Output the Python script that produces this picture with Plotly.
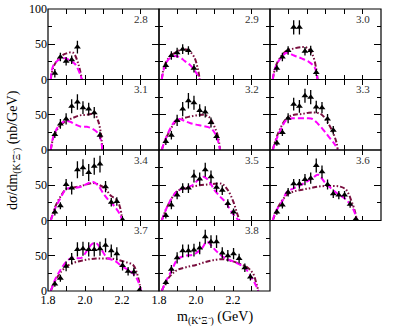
import plotly.graph_objects as go
from plotly.subplots import make_subplots

# Photon energies (panel labels)
energies = ["2.8", "2.9", "3.0", "3.1", "3.2", "3.3", "3.4", "3.5", "3.6", "3.7", "3.8"]

# Common mass grid for data points (GeV)
m_grid = [1.837, 1.867, 1.898, 1.928, 1.959, 1.989, 2.020, 2.050, 2.081, 2.111,
          2.142, 2.172, 2.203, 2.233, 2.264, 2.294]

# Data values (nb/GeV) and errors per panel
y_28 = [9, 32, 26, 28, 46]
e_28 = [6, 6, 6, 6, 9]
y_29 = [20, 34, 38, 43, 41, 16]
e_29 = [5, 6, 7, 7, 6, 6]
y_30 = [16, 32, 41, 74, 74, 40, 41, 10]
e_30 = [5, 6, 6, 10, 10, 6, 7, 5]
y_31 = [22, 37, 44, 62, 68, 60, 58, 53, 21]
e_31 = [5, 7, 8, 10, 11, 9, 9, 8, 5]
y_32 = [12, 21, 42, 58, 70, 67, 56, 54, 39, 19]
e_32 = [5, 6, 8, 10, 11, 10, 9, 8, 7, 5]
y_33 = [10, 25, 45, 65, 62, 77, 75, 61, 60, 44, 28]
e_33 = [4, 5, 7, 9, 9, 10, 10, 9, 8, 7, 6]
y_34 = [12, 21, 51, 46, 72, 75, 68, 77, 80, 48, 26, 27, 1]
e_34 = [5, 5, 8, 9, 12, 12, 12, 12, 12, 8, 6, 6, 2]
y_35 = [7, 22, 36, 46, 46, 63, 59, 72, 62, 47, 43, 24, 12]
e_35 = [4, 6, 6, 7, 7, 9, 9, 10, 9, 7, 7, 6, 5]
y_36 = [12, 22, 40, 52, 52, 58, 60, 78, 69, 51, 38, 36, 36, 23, 2]
e_36 = [4, 5, 6, 7, 7, 8, 8, 10, 9, 7, 6, 6, 6, 5, 2]
y_37 = [10, 18, 35, 46, 59, 60, 59, 59, 60, 65, 57, 53, 36, 28, 27, 1]
e_37 = [4, 5, 7, 8, 10, 10, 10, 10, 10, 10, 9, 9, 7, 6, 6, 2]
y_38 = [12, 31, 47, 57, 57, 58, 61, 77, 70, 70, 54, 50, 53, 46, 33, 20]
e_38 = [4, 6, 8, 9, 9, 9, 9, 10, 9, 9, 8, 8, 8, 7, 6, 5]

# Model curve A (dash-dot-dot, maroon)
ax_28 = [1.815, 1.83, 1.865, 1.90, 1.935, 1.964, 1.983]
ay_28 = [0, 18, 32, 37, 38, 22, 0]
ax_29 = [1.815, 1.83, 1.86, 1.90, 1.93, 1.96, 1.99, 2.01, 2.02]
ay_29 = [0, 20, 33, 40, 43, 41, 32, 15, 0]
ax_30 = [1.815, 1.83, 1.86, 1.89, 1.93, 1.97, 2.00, 2.03, 2.05, 2.057]
ay_30 = [0, 18, 33, 41, 44, 46, 45, 35, 15, 0]
ax_31 = [1.815, 1.83, 1.86, 1.89, 1.93, 1.97, 2.01, 2.05, 2.07, 2.085, 2.094]
ay_31 = [0, 18, 33, 40, 45, 49, 50, 51, 42, 25, 0]
ax_32 = [1.815, 1.83, 1.86, 1.89, 1.92, 1.96, 2.00, 2.04, 2.07, 2.10, 2.12, 2.13]
ay_32 = [0, 12, 28, 40, 44, 47, 49, 50, 47, 33, 18, 0]
ax_33 = [1.815, 1.83, 1.86, 1.89, 1.93, 1.97, 2.01, 2.05, 2.08, 2.11, 2.14, 2.16, 2.166]
ay_33 = [0, 14, 33, 45, 50, 51, 53, 53, 50, 40, 25, 10, 0]
ax_34 = [1.815, 1.84, 1.87, 1.90, 1.94, 1.98, 2.02, 2.05, 2.08, 2.11, 2.14, 2.17, 2.19, 2.201]
ay_34 = [0, 20, 35, 45, 47, 49, 52, 53, 50, 45, 35, 30, 18, 0]
ax_35 = [1.815, 1.84, 1.87, 1.90, 1.94, 1.98, 2.02, 2.06, 2.10, 2.14, 2.17, 2.20, 2.22, 2.235]
ay_35 = [0, 17, 32, 42, 45, 48, 50, 51, 52, 52, 44, 28, 12, 0]
ax_36 = [1.815, 1.84, 1.87, 1.90, 1.94, 1.98, 2.02, 2.06, 2.10, 2.14, 2.18, 2.21, 2.24, 2.26, 2.27]
ay_36 = [0, 17, 30, 38, 42, 44, 46, 48, 49, 49, 48, 44, 28, 12, 0]
ax_37 = [1.815, 1.84, 1.87, 1.90, 1.94, 1.98, 2.02, 2.06, 2.10, 2.14, 2.18, 2.22, 2.26, 2.28, 2.295, 2.303]
ay_37 = [0, 15, 27, 35, 40, 43, 45, 46, 46, 46, 44, 41, 37, 26, 10, 0]
ax_38 = [1.815, 1.84, 1.87, 1.90, 1.95, 2.00, 2.05, 2.10, 2.15, 2.20, 2.24, 2.28, 2.31, 2.325, 2.337]
ay_38 = [0, 14, 24, 30, 34, 37, 41, 44, 45, 42, 38, 33, 24, 12, 0]

# Model curve B (dashed, magenta)
bx_28 = [1.815, 1.829, 1.865, 1.892, 1.92, 1.946, 1.973, 1.983]
by_28 = [0, 20, 29, 30, 27, 22, 8, 0]
bx_29 = [1.815, 1.83, 1.85, 1.88, 1.91, 1.94, 1.97, 2.00, 2.02]
by_29 = [0, 18, 28, 33, 32, 26, 20, 10, 0]
bx_30 = [1.815, 1.83, 1.86, 1.89, 1.93, 1.97, 2.01, 2.04, 2.05, 2.057]
by_30 = [0, 18, 31, 38, 34, 30, 25, 18, 10, 0]
bx_31 = [1.815, 1.83, 1.86, 1.89, 1.92, 1.95, 1.98, 2.01, 2.04, 2.07, 2.085, 2.094]
by_31 = [0, 20, 35, 41, 40, 36, 33, 33, 30, 24, 15, 0]
bx_32 = [1.815, 1.83, 1.86, 1.89, 1.91, 1.94, 1.97, 2.00, 2.04, 2.08, 2.11, 2.13]
by_32 = [0, 12, 30, 42, 44, 41, 38, 36, 34, 31, 20, 0]
bx_33 = [1.815, 1.83, 1.86, 1.89, 1.92, 1.96, 2.00, 2.03, 2.06, 2.09, 2.12, 2.15, 2.166]
by_33 = [0, 12, 30, 43, 45, 45, 45, 44, 37, 28, 18, 8, 0]
bx_34 = [1.815, 1.84, 1.87, 1.90, 1.94, 1.98, 2.01, 2.04, 2.07, 2.10, 2.13, 2.16, 2.19, 2.201]
by_34 = [0, 18, 33, 45, 46, 48, 52, 55, 50, 38, 28, 20, 8, 0]
bx_35 = [1.815, 1.84, 1.87, 1.90, 1.94, 1.98, 2.01, 2.04, 2.07, 2.10, 2.13, 2.16, 2.19, 2.22, 2.235]
by_35 = [0, 17, 32, 42, 46, 50, 57, 62, 56, 43, 34, 26, 13, 3, 0]
bx_36 = [1.815, 1.83, 1.87, 1.89, 1.93, 1.97, 2.03, 2.058, 2.10, 2.16, 2.21, 2.25, 2.27]
by_36 = [0, 12, 29, 40, 46, 51, 60, 65, 53, 39, 30, 16, 0]
bx_37 = [1.815, 1.84, 1.87, 1.90, 1.93, 1.98, 2.01, 2.04, 2.06, 2.09, 2.12, 2.16, 2.20, 2.24, 2.27, 2.29, 2.303]
by_37 = [0, 17, 31, 42, 47, 47, 57, 67, 68, 58, 47, 43, 35, 29, 22, 12, 0]
bx_38 = [1.815, 1.84, 1.87, 1.90, 1.94, 1.99, 2.03, 2.06, 2.09, 2.12, 2.16, 2.20, 2.24, 2.27, 2.30, 2.32, 2.337]
by_38 = [0, 15, 30, 45, 50, 52, 60, 70, 62, 54, 46, 42, 37, 31, 19, 10, 0]

data_y = [y_28, y_29, y_30, y_31, y_32, y_33, y_34, y_35, y_36, y_37, y_38]
data_e = [e_28, e_29, e_30, e_31, e_32, e_33, e_34, e_35, e_36, e_37, e_38]
curve_a = [(ax_28, ay_28), (ax_29, ay_29), (ax_30, ay_30), (ax_31, ay_31), (ax_32, ay_32),
           (ax_33, ay_33), (ax_34, ay_34), (ax_35, ay_35), (ax_36, ay_36), (ax_37, ay_37),
           (ax_38, ay_38)]
curve_b = [(bx_28, by_28), (bx_29, by_29), (bx_30, by_30), (bx_31, by_31), (bx_32, by_32),
           (bx_33, by_33), (bx_34, by_34), (bx_35, by_35), (bx_36, by_36), (bx_37, by_37),
           (bx_38, by_38)]

x_ticks_inner = [1.8, 2.0, 2.2]
x_ticks_last = [1.8, 2.0, 2.2, 2.4]
y_ticks_top = [0, 50, 100]
y_ticks_other = [0, 50]

FONT = "Liberation Serif"
MAROON = "#7a0f3f"
MAGENTA = "#ff00ff"

fig = make_subplots(rows=4, cols=3, horizontal_spacing=0, vertical_spacing=0)

for i, lab in enumerate(energies):
    r = i // 3 + 1
    c = i % 3 + 1
    xa, ya = curve_a[i]
    xb, yb = curve_b[i]
    fig.add_trace(go.Scatter(x=xa, y=ya, mode="lines", line_shape="spline",
                             line=dict(color=MAROON, width=2, dash="5px,2px,1.5px,2px,1.5px,2px"),
                             showlegend=False, hoverinfo="skip"), row=r, col=c)
    fig.add_trace(go.Scatter(x=xb, y=yb, mode="lines", line_shape="spline",
                             line=dict(color=MAGENTA, width=2, dash="6px,3px"),
                             showlegend=False, hoverinfo="skip"), row=r, col=c)
    n = len(data_y[i])
    fig.add_trace(go.Scatter(x=m_grid[:n], y=data_y[i], mode="markers",
                             marker=dict(symbol="triangle-up", size=6, color="black"),
                             error_y=dict(type="data", array=data_e[i], color="black",
                                          thickness=1.3, width=0),
                             showlegend=False), row=r, col=c)

for r in range(1, 5):
    for c in range(1, 4):
        xv = x_ticks_last if c == 3 else x_ticks_inner
        yv = y_ticks_top if r == 1 else y_ticks_other
        fig.update_xaxes(range=[1.8, 2.4], tickvals=xv, ticktext=[f"{v:.1f}" for v in xv],
                         showticklabels=(r == 4), ticks="inside", ticklen=5,
                         tickwidth=1, tickcolor="black", automargin=False,
                         minor=dict(dtick=0.1, tick0=1.8, ticks="inside", ticklen=5,
                                    tickcolor="black", tickwidth=1),
                         showline=False, mirror="allticks",
                         showgrid=False, zeroline=False,
                         tickfont=dict(family=FONT, size=12, color="black"),
                         row=r, col=c)
        fig.update_yaxes(range=[0, 100], tickvals=yv, ticktext=[str(v) for v in yv],
                         showticklabels=(c == 1), ticks="inside", ticklen=7,
                         tickwidth=1, tickcolor="black", automargin=False,
                         minor=dict(dtick=25, tick0=0, ticks="inside", ticklen=4,
                                    tickcolor="black", tickwidth=1),
                         showline=False, mirror="allticks",
                         showgrid=False, zeroline=False,
                         tickfont=dict(family=FONT, size=12, color="black"),
                         row=r, col=c)

# Panel frames and labels
for i in range(12):
    r = i // 3 + 1
    c = i % 3 + 1
    suffix = "" if i == 0 else str(i + 1)
    fig.add_shape(type="rect", xref="x" + suffix + " domain", yref="y" + suffix + " domain",
                  x0=0, x1=1, y0=0, y1=1, line=dict(color="black", width=1.2),
                  layer="above")
    if i < len(energies):
        fig.add_annotation(x=2.30, y=86, xref="x" + suffix, yref="y" + suffix,
                           text=energies[i], showarrow=False,
                           font=dict(family=FONT, size=11, color="#333333"))

fig.add_annotation(x=0.5, y=-0.095, xref="paper", yref="paper", yanchor="middle",
                   text="m<sub>(K⁺Ξ⁻)</sub> (GeV)", showarrow=False,
                   font=dict(family=FONT, size=14, color="black"))
fig.add_annotation(x=-0.102, y=0.5, xref="paper", yref="paper", textangle=-90,
                   xanchor="center", yanchor="middle",
                   text="dσ/dm<sub>(K⁺Ξ⁻)</sub> (nb/GeV)", showarrow=False,
                   font=dict(family=FONT, size=14, color="black"))

fig.update_layout(width=395, height=331, margin=dict(l=48, r=14, t=9, b=40),
                  paper_bgcolor="white", plot_bgcolor="white", showlegend=False)

fig.write_html("out.html", config={"displayModeBar": False},
               post_script="document.body.style.margin='0';")
